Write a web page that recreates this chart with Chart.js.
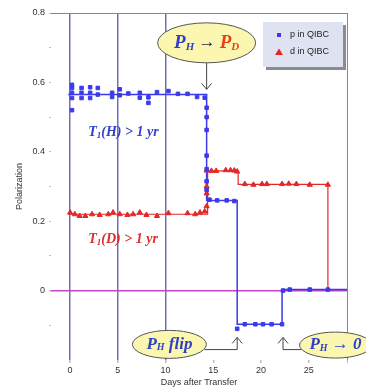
<!DOCTYPE html>
<html>
<head>
<meta charset="utf-8">
<script src="https://cdn.jsdelivr.net/npm/chart.js@4"></script>
<style>
  html, body { margin: 0; padding: 0; background: #fff; }
  #wrap { width: 366px; height: 389px; }
</style>
</head>
<body>
<div id="wrap"><canvas id="c"></canvas></div>
<script>
// tick positions
const xTicks = [0, 5, 10, 15, 20, 25, 29];
const yTicks = [-0.1, 0, 0.1, 0.2, 0.3, 0.4, 0.5, 0.6, 0.7, 0.8];
const yLabelled = [0, 0.2, 0.4, 0.6, 0.8];
const xFrameLines = [0, 5, 10];

// p in QIBC (markers)
const pDays = [0.2, 0.2, 0.2, 0.2, 0.2, 1.2, 1.2, 1.2, 2.1, 2.1, 2.1, 2.9, 2.9, 4.4, 4.4, 5.2, 5.2, 6.1, 7.3, 7.3,
  8.2, 8.2, 9.1, 10.3, 11.3, 12.3, 13.3, 14.1, 14.3, 14.3, 14.3, 14.3, 14.3, 14.3, 14.3,
  14.6, 15.4, 16.4, 17.2, 17.5, 18.3, 19.4, 20.2, 21.1, 22.2, 22.3, 23.0, 25.1, 27.0];
const pPol = [0.593, 0.584, 0.57, 0.555, 0.52, 0.584, 0.57, 0.555, 0.586, 0.57, 0.555, 0.584, 0.565, 0.57, 0.558, 0.58, 0.563, 0.568, 0.57, 0.556,
  0.557, 0.541, 0.572, 0.575, 0.567, 0.567, 0.558, 0.556, 0.527, 0.50, 0.463, 0.389, 0.35, 0.315, 0.29,
  0.262, 0.26, 0.26, 0.258, -0.11, -0.097, -0.097, -0.097, -0.097, -0.097, 0.0, 0.003, 0.003, 0.003];

// d in QIBC (markers)
const dDays = [0, 0.5, 1.0, 1.6, 2.3, 3.1, 4.0, 4.5, 5.2, 6.0, 6.6, 7.3, 8.0, 9.1, 10.3, 12.3, 13.1, 13.6, 14.1,
  14.3, 14.3, 14.3, 14.3, 14.8, 15.3, 16.3, 16.8, 17.2, 17.5,
  18.3, 19.2, 20.1, 20.6, 22.2, 22.9, 23.7, 25.1, 27.0];
const dPol = [0.225, 0.22, 0.215, 0.215, 0.22, 0.218, 0.22, 0.225, 0.22, 0.218, 0.22, 0.225, 0.218, 0.215, 0.223, 0.223, 0.22, 0.225, 0.228,
  0.243, 0.28, 0.30, 0.346, 0.345, 0.345, 0.347, 0.347, 0.346, 0.343,
  0.307, 0.305, 0.307, 0.307, 0.307, 0.308, 0.307, 0.305, 0.305];

// step outlines
const pStepDays = [-0.2, 14.3, 14.3, 17.5, 17.5, 22.2, 22.2, 29];
const pStepPol = [0.565, 0.565, 0.26, 0.26, -0.097, -0.097, 0.003, 0.003];
const dStepDays = [-0.2, 14.4, 14.4, 17.6, 17.6, 27.0, 27.0];
const dStepPol = [0.22, 0.22, 0.345, 0.345, 0.306, 0.306, 0];

const BLUE = '#3b3bea';
const RED = '#e4282a';

const zip = (xs, ys) => xs.map((x, i) => ({ x: x, y: ys[i] }));

function subText(ctx, parts, x, y) {
  // parts: [text, color, size, isSub]
  let cx = x;
  parts.forEach(p => {
    ctx.font = 'italic bold ' + p[2] + 'px "Liberation Serif", serif';
    ctx.fillStyle = p[1];
    ctx.fillText(p[0], cx, y + (p[3] ? p[2] * 0.35 : 0));
    cx += ctx.measureText(p[0]).width;
  });
  return cx - x;
}

function measure(ctx, parts) {
  let w = 0;
  parts.forEach(p => {
    ctx.font = 'italic bold ' + p[2] + 'px "Liberation Serif", serif';
    w += ctx.measureText(p[0]).width;
  });
  return w;
}

function bubble(ctx, cx, cy, rx, ry, parts) {
  ctx.save();
  ctx.beginPath();
  ctx.ellipse(cx, cy, rx, ry, 0, 0, Math.PI * 2);
  ctx.fillStyle = '#fbf7b0';
  ctx.fill();
  ctx.lineWidth = 1;
  ctx.strokeStyle = '#555';
  ctx.stroke();
  ctx.textBaseline = 'middle';
  const w = measure(ctx, parts);
  subText(ctx, parts, cx - w / 2, cy);
  ctx.restore();
}

function arrowPath(ctx, pts, dir) {
  ctx.save();
  ctx.strokeStyle = '#444';
  ctx.lineWidth = 1;
  ctx.beginPath();
  ctx.moveTo(pts[0][0], pts[0][1]);
  pts.slice(1).forEach(p => ctx.lineTo(p[0], p[1]));
  ctx.stroke();
  const e = pts[pts.length - 1];
  ctx.beginPath();
  ctx.moveTo(e[0] - 5, e[1] - dir * 6);
  ctx.lineTo(e[0], e[1]);
  ctx.lineTo(e[0] + 5, e[1] - dir * 6);
  ctx.stroke();
  ctx.restore();
}

const notes = {
  id: 'notes',
  afterDraw(chart) {
    const ctx = chart.ctx;
    const xs = chart.scales.x, ys = chart.scales.y;
    const X = d => xs.getPixelForValue(d);
    const Y = v => ys.getPixelForValue(v);
    const area = chart.chartArea;

    // legend box
    const lx = area.right - 84, ly = area.top + 9, lw = 80, lh = 45;
    ctx.save();
    ctx.fillStyle = '#8c8c8c';
    ctx.fillRect(lx + 3, ly + 3, lw, lh);
    ctx.fillStyle = '#dfe3f1';
    ctx.fillRect(lx, ly, lw, lh);
    ctx.font = '9px "Liberation Sans", Arial, sans-serif';
    ctx.textBaseline = 'middle';
    const items = chart.data.datasets.filter(d => d.label);
    items.forEach((d, i) => {
      const iy = ly + 13 + i * 17;
      ctx.fillStyle = d.backgroundColor;
      if (d.pointStyle === 'triangle') {
        ctx.beginPath();
        ctx.moveTo(lx + 16, iy - 3.5);
        ctx.lineTo(lx + 20, iy + 3);
        ctx.lineTo(lx + 12, iy + 3);
        ctx.closePath();
        ctx.fill();
      } else {
        ctx.fillRect(lx + 14, iy - 2, 4, 4);
      }
      ctx.fillStyle = '#222';
      ctx.fillText(d.label, lx + 27, iy);
    });
    ctx.restore();

    // text labels
    ctx.save();
    ctx.textBaseline = 'middle';
    subText(ctx, [['T', '#2f3fc8', 14], ['1', '#2f3fc8', 9, true], ['(H) > 1 yr', '#2f3fc8', 14]], X(1.9), Y(0.455));
    subText(ctx, [['T', '#d8302a', 14], ['1', '#d8302a', 9, true], ['(D) > 1 yr', '#d8302a', 14]], X(1.9), Y(0.147));
    ctx.restore();

    // bubbles and arrows
    bubble(ctx, X(14.3), Y(0.714), 49, 20,
      [['P', '#2f3fc8', 19], ['H', '#2f3fc8', 11, true], [' \u2192 ', '#1a1a3a', 17], ['P', '#e8401a', 19], ['D', '#e8401a', 11, true]]);
    arrowPath(ctx, [[X(14.3), Y(0.714) + 20], [X(14.3), Y(0.58)]], 1);

    arrowPath(ctx, [[X(10.2) + 37, Y(-0.17)], [X(17.5), Y(-0.17)], [X(17.5), Y(-0.135)]], -1);
    bubble(ctx, X(10.4), Y(-0.155), 37, 14,
      [['P', '#2f3fc8', 17], ['H', '#2f3fc8', 10, true], [' flip', '#2f3fc8', 17]]);

    arrowPath(ctx, [[X(24.2), Y(-0.17)], [X(22.3), Y(-0.17)], [X(22.3), Y(-0.135)]], -1);
    bubble(ctx, X(27.8), Y(-0.157), 36, 13,
      [['P', '#2f3fc8', 17], ['H', '#2f3fc8', 10, true], [' \u2192 0', '#2f3fc8', 17]]);
  }
};

new Chart(document.getElementById('c'), {
  type: 'scatter',
  data: {
    datasets: [
      {
        label: 'p in QIBC',
        data: zip(pDays, pPol),
        backgroundColor: BLUE,
        borderColor: BLUE,
        pointStyle: 'rect',
        pointRadius: 2.5,
        showLine: false
      },
      {
        label: 'd in QIBC',
        data: zip(dDays, dPol),
        backgroundColor: RED,
        borderColor: RED,
        pointStyle: 'triangle',
        pointRadius: 3,
        showLine: false
      },
      {
        data: zip(pStepDays, pStepPol),
        borderColor: BLUE,
        borderWidth: 1.5,
        pointRadius: 0,
        showLine: true
      },
      {
        data: zip(dStepDays, dStepPol),
        borderColor: RED,
        borderWidth: 1.2,
        pointRadius: 0,
        showLine: true
      }
    ]
  },
  options: {
    responsive: true,
    maintainAspectRatio: false,
    animation: false,
    layout: { padding: { top: 13, right: 19, left: 0, bottom: 0 } },
    plugins: {
      legend: { display: false },
      tooltip: { enabled: false }
    },
    scales: {
      x: {
        type: 'linear',
        min: -2,
        max: 29,
        afterBuildTicks: s => { s.ticks = xTicks.map(v => ({ value: v })); },
        afterFit: s => { s.height = 29; },
        border: { display: false },
        grid: {
          color: c => xFrameLines.includes(c.tick.value) ? '#6f6fc0' : (c.tick.value === 29 ? '#888' : 'rgba(0,0,0,0)'),
          lineWidth: c => c.tick.value === 29 ? 1 : 1.5,
          tickColor: '#bbb',
          tickLength: 3
        },
        ticks: {
          color: '#333',
          font: { family: '"Liberation Sans", Arial, sans-serif', size: 9 },
          padding: 2,
          maxRotation: 0,
          callback: v => v === 29 ? '' : v
        },
        title: {
          display: true,
          text: 'Days after Transfer',
          color: '#333',
          font: { family: '"Liberation Sans", Arial, sans-serif', size: 9 },
          padding: { top: 0, bottom: 1 }
        }
      },
      y: {
        type: 'linear',
        min: -0.2,
        max: 0.8,
        afterBuildTicks: s => { s.ticks = yTicks.map(v => ({ value: v })); },
        afterFit: s => { s.width = 51; },
        border: { display: false },
        grid: {
          color: c => c.tick.value === 0 ? '#c544c5' : (Math.abs(c.tick.value - 0.8) < 1e-9 ? '#888' : 'rgba(0,0,0,0)'),
          lineWidth: c => c.tick.value === 0 ? 1.5 : 1,
          tickColor: '#bbb',
          tickLength: 2
        },
        ticks: {
          color: '#333',
          font: { family: '"Liberation Sans", Arial, sans-serif', size: 9 },
          padding: 4,
          callback: v => yLabelled.some(t => Math.abs(t - v) < 1e-9) ? (Math.abs(v) < 1e-9 ? '0' : v.toFixed(1)) : ''
        },
        title: {
          display: true,
          text: 'Polarization',
          color: '#333',
          font: { family: '"Liberation Sans", Arial, sans-serif', size: 9 },
          padding: { top: 14, bottom: 0 }
        }
      }
    }
  },
  plugins: [notes]
});
</script>
</body>
</html>
